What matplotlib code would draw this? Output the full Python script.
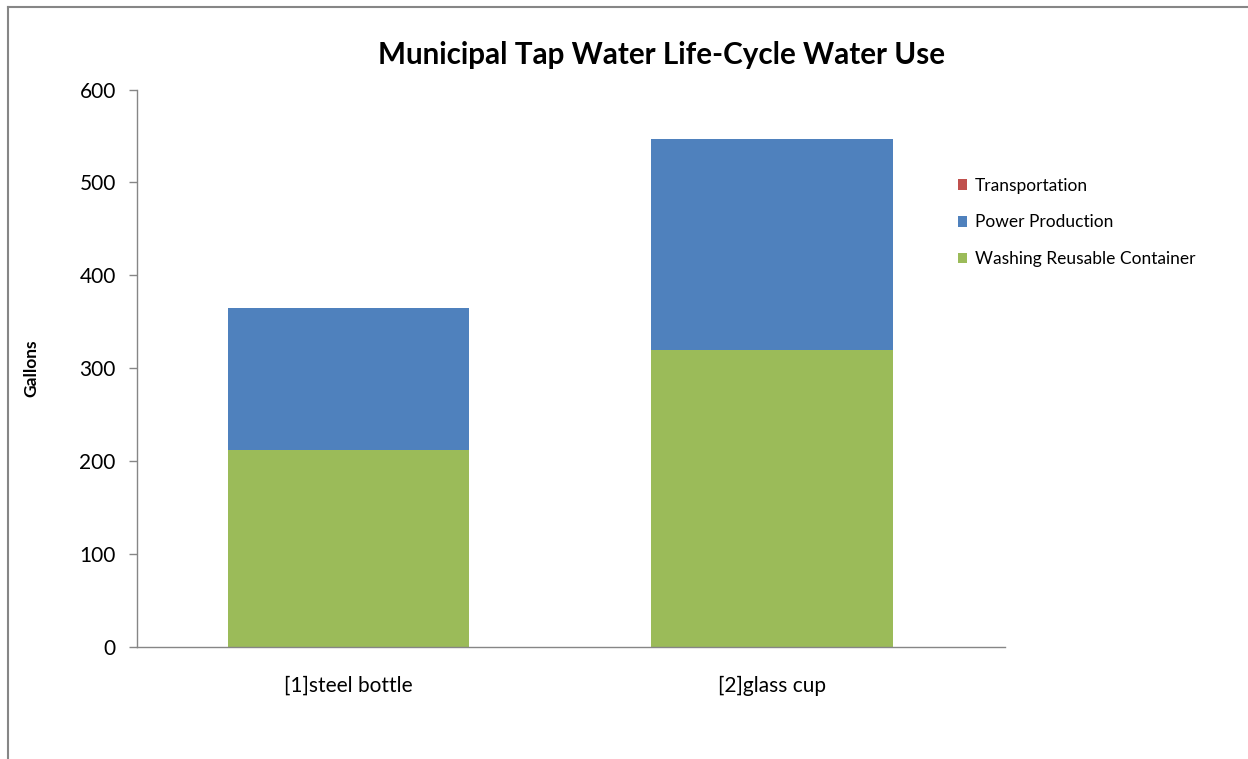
import matplotlib
matplotlib.use("Agg")
import matplotlib.pyplot as plt
from matplotlib.patches import Patch
from matplotlib.lines import Line2D
import numpy as np

categories = ["[1]steel bottle", "[2]glass cup"]
washing = [212, 320]
power = [153, 227]
transport = [0.1, 0.1]
series_names = ["Transportation", "Power Production", "Washing Reusable Container"]
colors = {"Transportation": "#C0504D", "Power Production": "#4F81BD",
          "Washing Reusable Container": "#9BBB59"}
yticks = [0, 100, 200, 300, 400, 500, 600]

plt.rcParams['font.family'] = ['Lato', 'DejaVu Sans']

W, H = 1248, 759
fig = plt.figure(figsize=(W/100, H/100), dpi=100)
ax = fig.add_axes([136.7/W, 1-647/H, (1005-136.7)/W, (647-89.5)/H])

x = np.arange(len(categories))
bw = 0.57
ax.bar(x, washing, bw, color=colors["Washing Reusable Container"])
ax.bar(x, power, bw, bottom=washing, color=colors["Power Production"])
ax.bar(x, transport, bw, bottom=np.array(washing)+np.array(power), color=colors["Transportation"])

ax.set_xlim(-0.5, 1.55)
ax.set_ylim(0, 600)
ax.set_yticks(yticks)
ax.set_yticklabels([str(v) for v in yticks], fontsize=15)
ax.set_xticks(x)
ax.set_xticklabels(categories, fontsize=15)
ax.tick_params(axis='x', length=0, pad=21)
ax.tick_params(axis='y', length=6, width=1, color='#868686', pad=9)
for s in ['top', 'right']:
    ax.spines[s].set_visible(False)
for s in ['left', 'bottom']:
    ax.spines[s].set_color('#868686')
    ax.spines[s].set_linewidth(1)

ax.set_ylabel("Gallons", fontsize=12.5, fontweight='bold', labelpad=29)
fig.text(661/W, 1-55/H, "Municipal Tap Water Life-Cycle Water Use", ha='center', va='center',
         fontsize=21.3, fontweight='bold')

handles = [Patch(facecolor=colors[n], label=n) for n in series_names]
fig.legend(handles=handles, loc='upper left', bbox_to_anchor=(942/W, 1-162/H), frameon=False,
           fontsize=12.5, handlelength=0.55, handleheight=0.55, handletextpad=0.45, labelspacing=1.2)

fig.add_artist(Line2D([7.5/W, 7.5/W], [0, 1-6.5/H], transform=fig.transFigure,
                      color='#868686', linewidth=1.5))
fig.add_artist(Line2D([7.5/W, 1.01], [1-6.5/H, 1-6.5/H], transform=fig.transFigure,
                      color='#868686', linewidth=1.5))

fig.savefig("out.png", dpi=100)
